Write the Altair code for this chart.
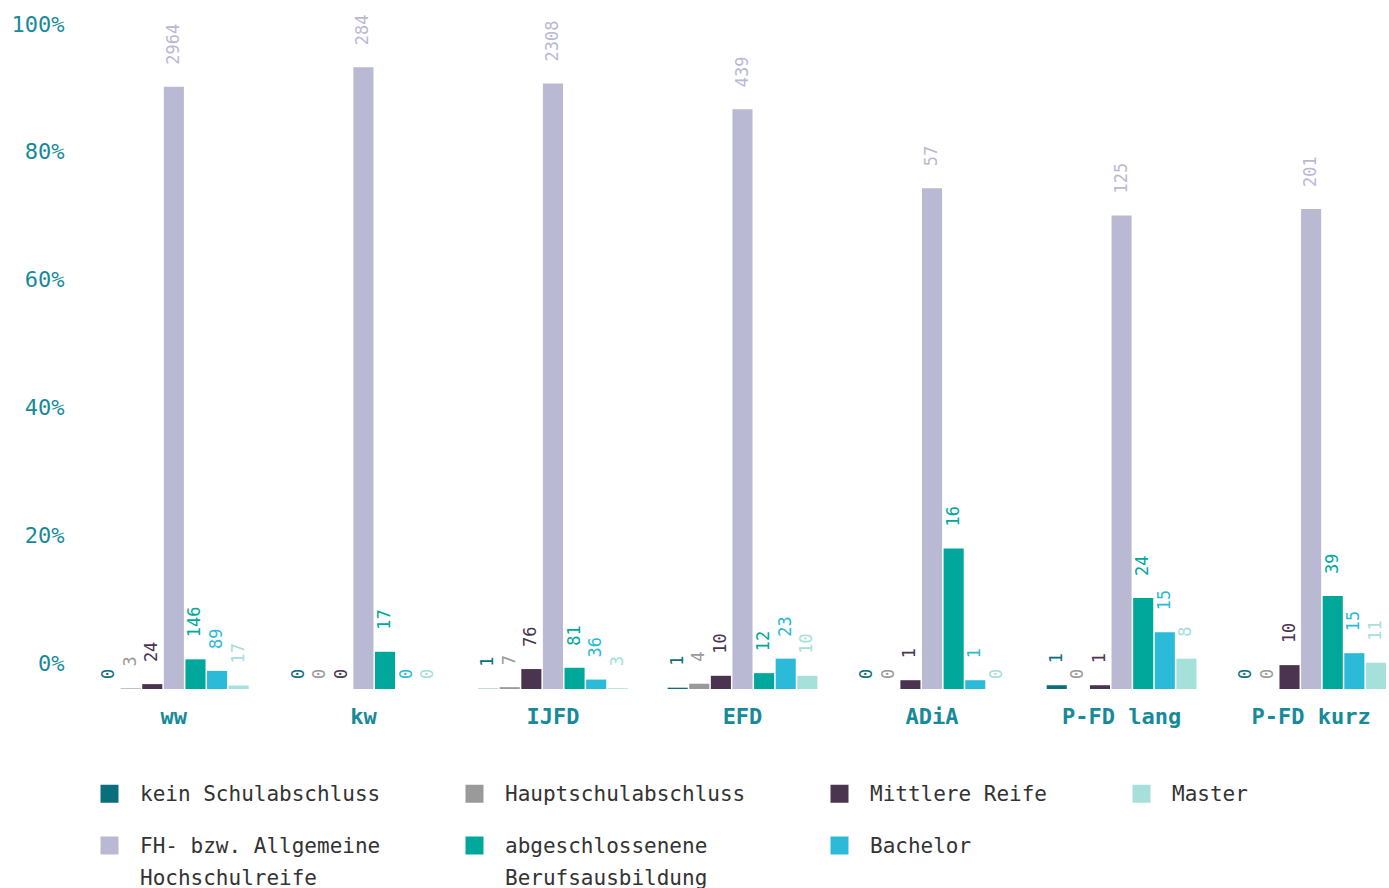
import altair as alt
import pandas as pd

groups = ["ww", "kw", "IJFD", "EFD", "ADiA", "P-FD lang", "P-FD kurz"]
series_bar_order = [
    "kein Schulabschluss",
    "Hauptschulabschluss",
    "Mittlere Reife",
    "FH- bzw. Allgemeine Hochschulreife",
    "abgeschlossenene Berufsausbildung",
    "Bachelor",
    "Master",
]
legend_order = [
    "kein Schulabschluss",
    "Hauptschulabschluss",
    "Mittlere Reife",
    "Master",
    "FH- bzw. Allgemeine Hochschulreife",
    "abgeschlossenene Berufsausbildung",
    "Bachelor",
]
colors = {
    "kein Schulabschluss": "#0b6e7d",
    "Hauptschulabschluss": "#9a9a9a",
    "Mittlere Reife": "#4a344f",
    "FH- bzw. Allgemeine Hochschulreife": "#b9b9d3",
    "abgeschlossenene Berufsausbildung": "#00a89c",
    "Bachelor": "#2bbad8",
    "Master": "#a5e0da",
}

kein = [0, 0, 1, 1, 0, 1, 0]
haupt = [3, 0, 7, 4, 0, 0, 0]
mittlere = [24, 0, 76, 10, 1, 1, 10]
fh = [2964, 284, 2308, 439, 57, 125, 201]
berufs = [146, 17, 81, 12, 16, 24, 39]
bachelor = [89, 0, 36, 23, 1, 15, 15]
master = [17, 0, 3, 10, 0, 8, 11]

counts = [kein, haupt, mittlere, fh, berufs, bachelor, master]
rows = []
for s, vals in zip(series_bar_order, counts):
    for g, v in zip(groups, vals):
        rows.append({"group": g, "series": s, "count": v})
df = pd.DataFrame(rows)

y_ticks = [0, 20, 40, 60, 80, 100]
axis_df = pd.DataFrame({"v": y_ticks})

FONT = "DejaVu Sans Mono"
TEAL = "#168a9a"
DY = 7

base = alt.Chart(df).transform_joinaggregate(
    total="sum(count)", groupby=["group"]
).transform_calculate(pct="datum.count / datum.total")

x_enc = alt.X(
    "group:N",
    sort=groups,
    scale=alt.Scale(paddingInner=0.21, paddingOuter=0),
    axis=alt.Axis(
        title=None, domain=False, ticks=False, labelAngle=0,
        labelFont=FONT, labelFontSize=22, labelFontWeight="bold",
        labelColor=TEAL, labelPadding=17 - DY,
    ),
)
xoff = alt.XOffset("series:N", sort=series_bar_order, scale=alt.Scale(paddingInner=0.07))
y_enc = alt.Y("pct:Q", scale=alt.Scale(domain=[0, 1]), axis=None)
color_scale = alt.Scale(domain=legend_order, range=[colors[s] for s in legend_order])

bars = base.mark_bar().encode(
    x=x_enc,
    xOffset=xoff,
    y=y_enc,
    color=alt.Color(
        "series:N",
        scale=color_scale,
        legend=alt.Legend(
            title=None, orient="none", legendX=0, legendY=753, columns=4,
            direction="horizontal",
            symbolType="square", symbolSize=324, symbolStrokeWidth=0,
            labelFont=FONT, labelFontSize=21, labelColor="#333333",
            labelLimit=500, labelOffset=20, columnPadding=83, rowPadding=30,
            padding=0, labelBaseline="alphabetic",
            labelExpr="datum.label == 'FH- bzw. Allgemeine Hochschulreife' ? ['FH- bzw. Allgemeine', 'Hochschulreife'] : datum.label == 'abgeschlossenene Berufsausbildung' ? ['abgeschlossenene', 'Berufsausbildung'] : datum.label",
        ),
    ),
)

labels_nz = base.transform_filter("datum.count > 0").mark_text(
    angle=270, align="left", baseline="middle", dx=22, font=FONT, fontSize=17
).encode(
    x=x_enc, xOffset=xoff, y=y_enc, text="count:Q",
    color=alt.Color("series:N", scale=color_scale, legend=None),
)
labels_z = base.transform_filter("datum.count == 0").mark_text(
    angle=270, align="left", baseline="middle", dx=10, font=FONT, fontSize=17
).encode(
    x=x_enc, xOffset=xoff, y=y_enc, text="count:Q",
    color=alt.Color("series:N", scale=color_scale, legend=None),
)

main = alt.layer(bars, labels_nz, labels_z)

yaxis = alt.Chart(axis_df).mark_point(opacity=0).encode(
    y=alt.Y(
        "v:Q",
        scale=alt.Scale(domain=[0, 100], range=[633 - DY, -6 - DY]),
        axis=alt.Axis(
            orient="left", values=y_ticks, title=None, domain=False, ticks=False,
            grid=False, labelExpr="datum.value + '%'", labelFont=FONT,
            labelFontSize=22, labelColor=TEAL, labelPadding=35,
        ),
    )
)

chart = alt.layer(main, yaxis).resolve_scale(y="independent").properties(
    width=1287, height=659,
    autosize=alt.AutoSizeParams(type="none"),
    padding={"left": 99, "top": 30, "right": 3, "bottom": 199},
).configure(
    font=FONT,
    style={"guide-label": {"lineHeight": 32, "dy": DY}},
    view=alt.ViewConfig(stroke="transparent", strokeWidth=0),
)

chart.save("out.html", embed_options={"renderer": "svg", "actions": False})
